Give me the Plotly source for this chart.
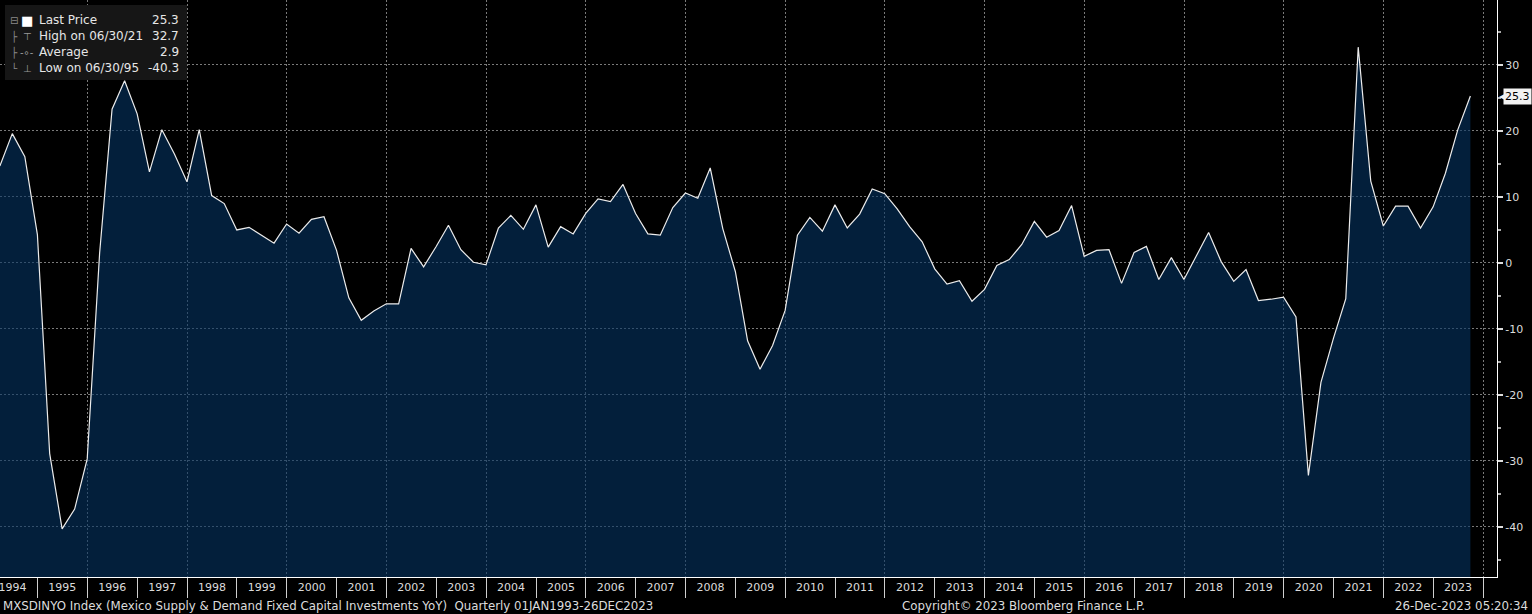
import pandas as pd
import plotly.graph_objects as go

# quarterly YoY %, Q1 1994 .. Q3 2023
values = [
    14.7, 19.6, 16.1, 4.3,        # 1994
    -28.9, -40.3, -37.3, -29.7,   # 1995
    1.5, 23.3, 27.6, 22.6,        # 1996
    13.8, 20.2, 16.5, 12.3,       # 1997
    20.2, 10.2, 9.0, 5.0,         # 1998
    5.4, 4.2, 3.0, 5.9,           # 1999
    4.5, 6.6, 7.0, 1.9,           # 2000
    -5.3, -8.7, -7.3, -6.2,       # 2001
    -6.2, 2.2, -0.6, 2.5,         # 2002
    5.7, 2.0, 0.1, -0.3,          # 2003
    5.3, 7.2, 5.1, 8.8,           # 2004
    2.4, 5.5, 4.4, 7.5,           # 2005
    9.7, 9.3, 11.9, 7.5,          # 2006
    4.4, 4.2, 8.4, 10.6,          # 2007
    9.8, 14.4, 5.2, -1.3,         # 2008
    -11.8, -16.1, -12.5, -7.2,    # 2009
    4.2, 6.9, 4.8, 8.8,           # 2010
    5.3, 7.4, 11.2, 10.5,         # 2011
    8.2, 5.5, 3.2, -0.9,          # 2012
    -3.2, -2.7, -5.8, -4.0,       # 2013
    -0.4, 0.5, 2.8, 6.3,          # 2014
    3.9, 4.9, 8.7, 1.0,           # 2015
    1.9, 2.0, -3.1, 1.6,          # 2016
    2.5, -2.5, 0.8, -2.5,         # 2017
    1.1, 4.6, 0.2, -2.8,          # 2018
    -1.0, -5.7, -5.5, -5.2,       # 2019
    -8.2, -32.2, -18.1, -11.4,    # 2020
    -5.4, 32.7, 12.4, 5.6,        # 2021
    8.6, 8.6, 5.3, 8.5,           # 2022
    13.6, 20.2, 25.3,             # 2023
]
dates = pd.date_range("1994-03-31", periods=len(values), freq="QE")

years = list(range(1994, 2024))
year_mid = [f"{y}-07-02" for y in years]      # labels sit mid-year
year_text = [str(y) for y in years]

y_ticks = [-40, -30, -20, -10, 0, 10, 20, 30]
y_tick_text = [str(v) for v in y_ticks]  # plain hyphen, like the terminal
Y_MIN, Y_MAX = -47.6, 39.85
X_RANGE = ["1994-04-01", "2024-04-12"]

legend_rows = [
    ("Last Price", "25.3"),
    ("High on 06/30/21", "32.7"),
    ("Average", "2.9"),
    ("Low on 06/30/95", "-40.3"),
]
legend_icons = ["■", "⊤", "-∘-", "⊥"]
legend_tree = ["⊟", "├", "├", "└"]

FONT = "DejaVu Sans"
TXT = "#dcdcdc"
GRID = "#7a7a7a"

fig = go.Figure()
# floor of the area fill: bottom of the value axis
fig.add_trace(go.Scatter(
    x=dates, y=[Y_MIN] * len(values), mode="lines",
    line=dict(width=0), hoverinfo="skip", showlegend=False,
))
fig.add_trace(go.Scatter(
    x=dates, y=values, mode="lines",
    line=dict(color="#ececec", width=1.2),
    fill="tonexty", fillcolor="rgba(5,52,98,0.6)",
    showlegend=False,
))
# dummy traces so the overlay axes are drawn
fig.add_trace(go.Scatter(x=[dates[0]], y=[values[0]], xaxis="x2", mode="none",
                         showlegend=False, hoverinfo="skip"))
fig.add_trace(go.Scatter(x=[dates[0]], y=[values[0]], xaxis="x3", mode="none",
                         showlegend=False, hoverinfo="skip"))

fig.update_layout(
    width=1532, height=614,
    margin=dict(l=0, r=35, t=0, b=37),
    paper_bgcolor="black", plot_bgcolor="black",
    font=dict(family=FONT, size=11, color=TXT),
    xaxis=dict(
        type="date", range=X_RANGE,
        tickvals=year_mid, ticktext=year_text, ticks="", showgrid=False,
        ticklabeloverflow="allow",
        showline=True, linecolor="white", linewidth=1,
        tickfont=dict(size=11, color=TXT), zeroline=False,
    ),
    # year separators below the axis
    xaxis2=dict(
        type="date", range=X_RANGE, overlaying="x", matches="x", anchor="y",
        dtick="M12", tick0="1994-01-01", ticks="outside", ticklen=20,
        tickcolor="#cfcfcf", tickwidth=1, showticklabels=False, showgrid=False,
    ),
    # dotted vertical grid every two years
    xaxis3=dict(
        type="date", range=X_RANGE, overlaying="x", matches="x", anchor="y",
        dtick="M24", tick0="1996-01-01", ticks="", showticklabels=False,
        showgrid=True, gridcolor=GRID, griddash="2px,2px", gridwidth=1,
    ),
    yaxis=dict(
        side="right", range=[Y_MIN, Y_MAX],
        tickvals=y_ticks, ticktext=y_tick_text,
        ticks="outside", ticklen=5, tickwidth=2, tickcolor="#dcdcdc",
        minor=dict(dtick=5, tick0=0, ticks="outside", ticklen=3, tickcolor="#aaaaaa"),
        showgrid=True, gridcolor=GRID, griddash="2px,2px", gridwidth=1,
        showline=True, linecolor="white", linewidth=1, zeroline=False,
        tickfont=dict(size=11, color=TXT),
    ),
)

# legend box
fig.add_shape(type="rect", xref="paper", yref="paper",
              x0=5 / 1497, x1=187 / 1497, y0=1 - 80 / 577, y1=1 - 5 / 577,
              fillcolor="#161616", line=dict(width=0), layer="above")
for i, ((label, val), icon, tree) in enumerate(zip(legend_rows, legend_icons, legend_tree)):
    yshift = -20 - 16 * i
    fig.add_annotation(x=0, y=1, xref="paper", yref="paper", xanchor="left", yanchor="middle",
                       xshift=37, yshift=yshift, text=label, showarrow=False,
                       font=dict(family=FONT, size=12, color="#e6e6e6"))
    fig.add_annotation(x=0, y=1, xref="paper", yref="paper", xanchor="right", yanchor="middle",
                       xshift=181, yshift=yshift, text=val, showarrow=False,
                       font=dict(family=FONT, size=12, color="#e6e6e6"))
    fig.add_annotation(x=0, y=1, xref="paper", yref="paper", xanchor="center", yanchor="middle",
                       xshift=27, yshift=yshift, text=icon, showarrow=False,
                       font=dict(family=FONT, size=13 if i == 0 else 10,
                                 color="white" if i == 0 else "#9a9a9a"))
    fig.add_annotation(x=0, y=1, xref="paper", yref="paper", xanchor="center", yanchor="middle",
                       xshift=14, yshift=yshift, text=tree, showarrow=False,
                       font=dict(family=FONT, size=10, color="#8a8a8a"))

# last value tag on the right axis
fig.add_annotation(x=1, y=values[-1], xref="paper", yref="y", xanchor="left", yanchor="middle",
                   xshift=6, text=f"{values[-1]:.1f}", showarrow=False, bgcolor="#f2f2f2",
                   borderpad=1, font=dict(family=FONT, size=11, color="black"))
fig.add_annotation(x=1, y=values[-1], xref="paper", yref="y", xanchor="left", yanchor="middle",
                   xshift=0, text="◀", showarrow=False,
                   font=dict(family=FONT, size=8, color="#f2f2f2"))

# footer
FOOT = dict(family=FONT, size=11.8, color=TXT)
fig.add_annotation(x=0, y=0, xref="paper", yref="paper", xanchor="left", yanchor="middle",
                   xshift=1, yshift=-29, showarrow=False,
                   text="MXSDINYO Index (Mexico Supply & Demand Fixed Capital Investments YoY)  Quarterly 01JAN1993-26DEC2023",
                   font=FOOT)
fig.add_annotation(x=1023 / 1497, y=0, xref="paper", yref="paper", xanchor="center", yanchor="middle",
                   yshift=-29, showarrow=False, text="Copyright© 2023 Bloomberg Finance L.P.",
                   font=FOOT)
fig.add_annotation(x=1, y=0, xref="paper", yref="paper", xanchor="right", yanchor="middle",
                   xshift=33, yshift=-29, showarrow=False, text="26-Dec-2023 05:20:34",
                   font=FOOT)

fig.write_html("out.html", config={"displayModeBar": False},
               post_script="document.body.style.margin='0';")
